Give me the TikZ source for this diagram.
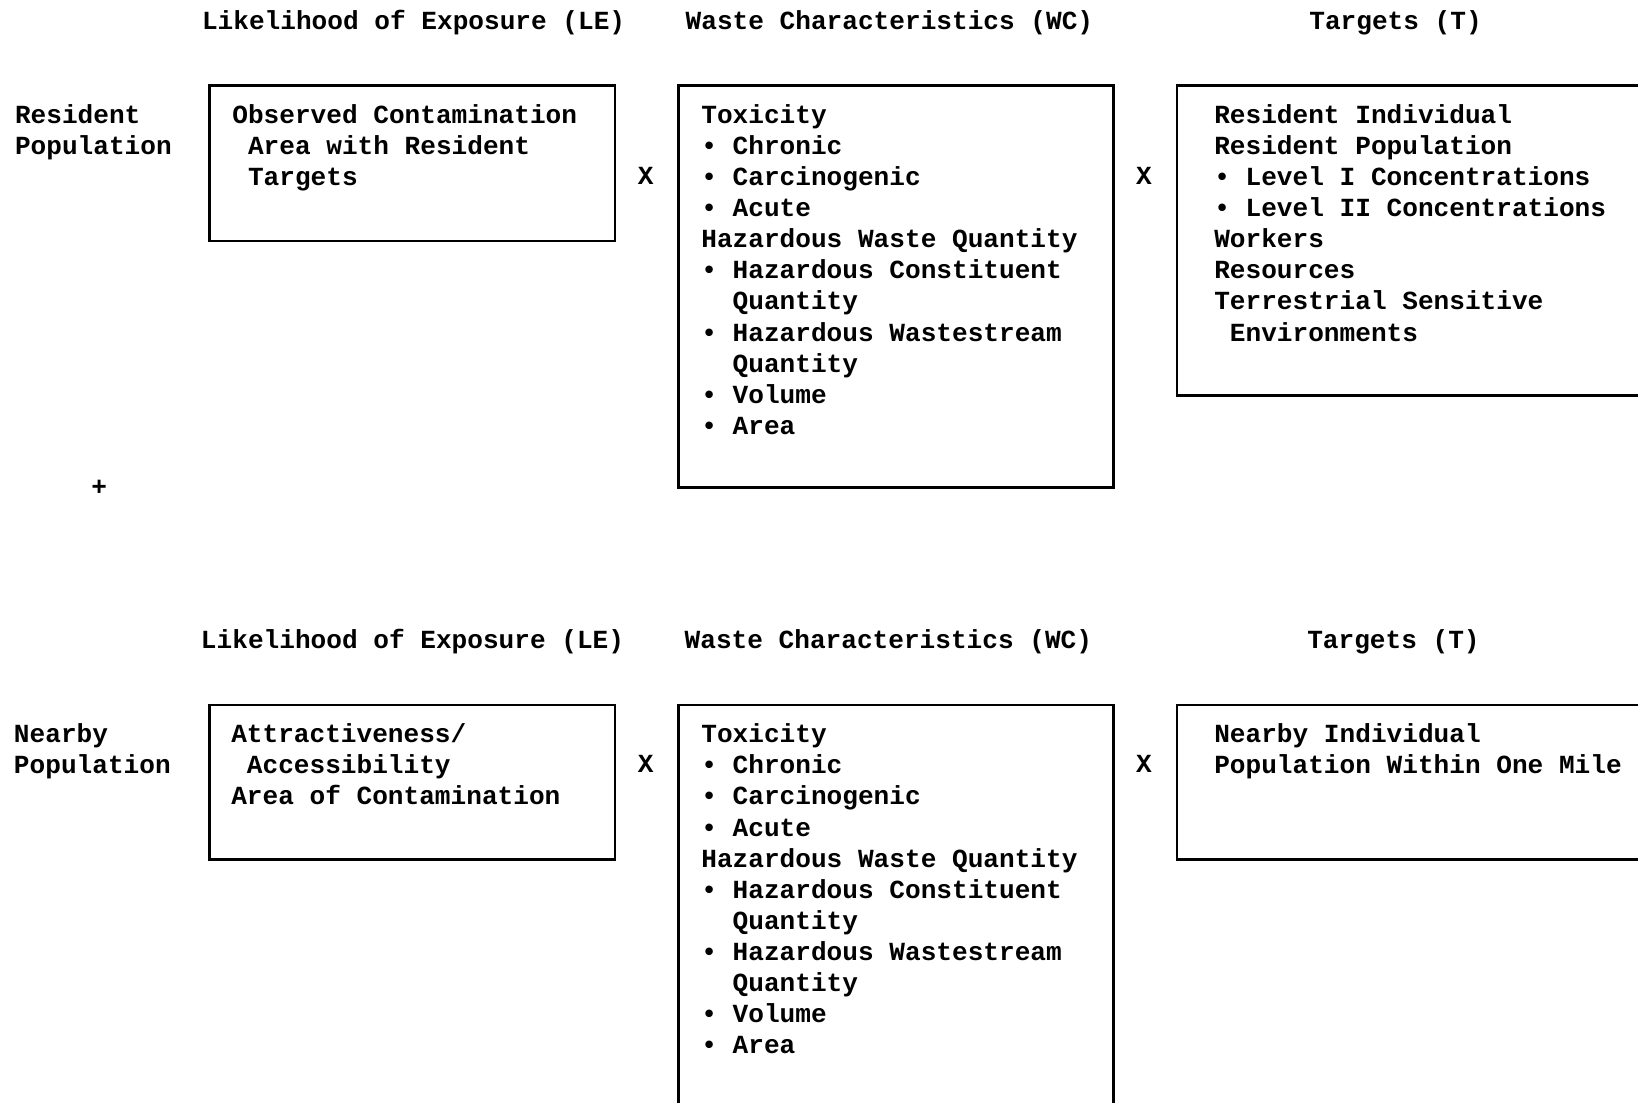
\documentclass[tikz,border=0pt]{standalone}
\usepackage{fontspec}
\setmonofont{Liberation Mono}
\usetikzlibrary{positioning}
\newcommand\ind{\hspace*{0.6em}}
\newcommand\topstrut{\rule{0pt}{12pt}}

\begin{document}
\begin{tikzpicture}[x=0.5pt, y=-0.5pt,
  lbl/.style={anchor=base west, inner sep=0pt, font=\ttfamily\bfseries\fontsize{12.5pt}{14.9pt}\selectfont},
  txt/.style={anchor=north west, inner sep=0pt, align=left, font=\ttfamily\bfseries\fontsize{12.5pt}{14.9pt}\selectfont},
  box/.style={draw, line width=1.2pt, anchor=north west, inner sep=0pt}]
  \useasboundingbox (0,0) rectangle (1568,1055);

  % Headers
  \node[lbl] (hdrLEa) at (193,28) {Likelihood of Exposure (LE)};
  \node[lbl] (hdrWCa) at (656,28) {Waste Characteristics (WC)};
  \node[lbl] (hdrTa) at (1253,28) {Targets (T)};
  \node[lbl] (hdrLEb) at (192,621) {Likelihood of Exposure (LE)};
  \node[lbl] (hdrWCb) at (655,621) {Waste Characteristics (WC)};
  \node[lbl] (hdrTb) at (1251,621) {Targets (T)};

  % Pathway names
  \node[txt] (resident) at (14,93.5) {\topstrut Resident\\Population};
  \node[txt] (nearby) at (13,686) {\topstrut Nearby\\Population};
  \node[lbl, anchor=center] (plus) at (95,467) {+};

  % Boxes
  \node[box, minimum width=194pt, minimum height=74.5pt] (leA) at (199.5,80.5) {};
  \node[box, minimum width=208pt, minimum height=192.5pt] (wcA) at (648.5,80.5) {};
  \node[box, minimum width=227.5pt, minimum height=148.5pt] (tA) at (1125.5,80.5) {};
  \node[box, minimum width=194pt, minimum height=74pt] (leB) at (199.5,673.5) {};
  \node[box, minimum width=208pt, minimum height=198.5pt] (wcB) at (648.5,673.5) {};
  \node[box, minimum width=227.5pt, minimum height=74pt] (tB) at (1125.5,673.5) {};

  % Times signs
  \node[lbl, anchor=base] (timesA1) at (618,177) {X};
  \node[lbl, anchor=base] (timesA2) at (1095,177) {X};
  \node[lbl, anchor=base] (timesB1) at (618,739) {X};
  \node[lbl, anchor=base] (timesB2) at (1095,739) {X};

  % Box contents
  \node[txt] (leAtext) at ([shift={(22.5,13)}]leA.north west)
    {\topstrut Observed Contamination\\\ind Area with Resident\\\ind Targets};
  \node[txt] (wcAtext) at ([shift={(22.5,13)}]wcA.north west)
    {\topstrut Toxicity\\• Chronic\\• Carcinogenic\\• Acute\\Hazardous Waste Quantity\\
     • Hazardous Constituent\\\ind\ind Quantity\\• Hazardous Wastestream\\\ind\ind Quantity\\
     • Volume\\• Area};
  \node[txt] (tAtext) at ([shift={(36.5,13)}]tA.north west)
    {\topstrut Resident Individual\\Resident Population\\• Level I Concentrations\\
     • Level II Concentrations\\Workers\\Resources\\Terrestrial Sensitive\\\ind Environments};
  \node[txt] (leBtext) at ([shift={(21.5,13)}]leB.north west)
    {\topstrut Attractiveness/\\\ind Accessibility\\Area of Contamination};
  \node[txt] (wcBtext) at ([shift={(22.5,13)}]wcB.north west)
    {\topstrut Toxicity\\• Chronic\\• Carcinogenic\\• Acute\\Hazardous Waste Quantity\\
     • Hazardous Constituent\\\ind\ind Quantity\\• Hazardous Wastestream\\\ind\ind Quantity\\
     • Volume\\• Area};
  \node[txt] (tBtext) at ([shift={(36.5,13)}]tB.north west)
    {\topstrut Nearby Individual\\Population Within One Mile};
\end{tikzpicture}
\end{document}
